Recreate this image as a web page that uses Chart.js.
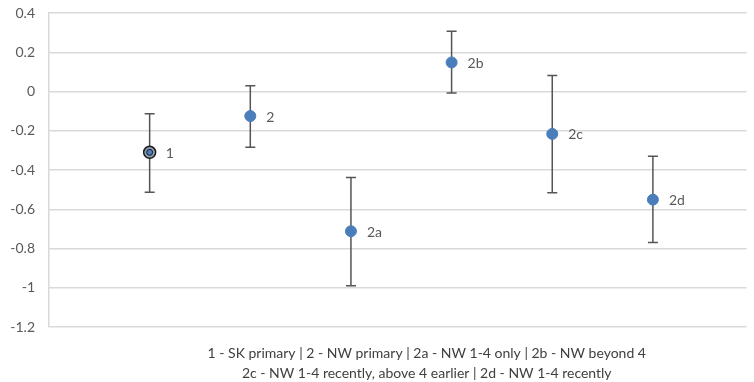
<!DOCTYPE html>
<html>
<head>
<meta charset="utf-8">
<script src="https://cdn.jsdelivr.net/npm/chart.js@4"></script>
<style>
  html, body { margin: 0; padding: 0; background: #fff; }
  #wrap { width: 754px; height: 382px; }
</style>
</head>
<body>
<div id="wrap"><canvas id="chart"></canvas></div>
<script>
const labels = ['1', '2', '2a', '2b', '2c', '2d'];
const xPos = [1, 2, 3, 4, 5, 6];
const means = [-0.31, -0.125, -0.712, 0.148, -0.216, -0.551];
const upper = [-0.113, 0.029, -0.438, 0.307, 0.081, -0.33];
const lower = [-0.513, -0.284, -0.99, -0.008, -0.516, -0.77];
const yTicks = [0.4, 0.2, 0, -0.2, -0.4, -0.6, -0.8, -1, -1.2];
const footer = [
    '1 - SK primary | 2 - NW primary | 2a - NW 1-4 only | 2b - NW beyond 4',
    '2c - NW 1-4 recently, above 4 earlier | 2d - NW 1-4 recently'
];

const blue = '#4a7ebb';
const textGrey = '#595959';
const font = "Lato, 'Open Sans', sans-serif";

// whiskers + point labels
const errorBars = {
    id: 'errorBars',
    beforeDatasetsDraw(chart) {
        const { ctx, scales: { x, y } } = chart;
        ctx.save();
        ctx.strokeStyle = '#555555';
        ctx.lineWidth = 1.5;
        xPos.forEach((v, i) => {
            const px = x.getPixelForValue(v);
            const top = y.getPixelForValue(upper[i]);
            const bot = y.getPixelForValue(lower[i]);
            ctx.beginPath();
            ctx.moveTo(px, top); ctx.lineTo(px, bot);
            ctx.moveTo(px - 5, top); ctx.lineTo(px + 5, top);
            ctx.moveTo(px - 5, bot); ctx.lineTo(px + 5, bot);
            ctx.stroke();
        });
        ctx.restore();
    },
    afterDatasetsDraw(chart) {
        const { ctx, scales: { x, y } } = chart;
        ctx.save();
        ctx.fillStyle = textGrey;
        ctx.font = '14px ' + font;
        ctx.textBaseline = 'middle';
        xPos.forEach((v, i) => {
            ctx.fillText(labels[i], x.getPixelForValue(v) + 16, y.getPixelForValue(means[i]) + 1);
        });
        ctx.restore();
    },
    afterDraw(chart) {
        const { ctx, chartArea } = chart;
        ctx.save();
        ctx.fillStyle = '#404040';
        ctx.font = '14px ' + font;
        ctx.textAlign = 'center';
        ctx.textBaseline = 'middle';
        const cx = (chartArea.left + chartArea.right) / 2 + 29;
        footer.forEach((line, i) => ctx.fillText(line, cx, chartArea.bottom + 26 + i * 20));
        ctx.restore();
    }
};

new Chart(document.getElementById('chart'), {
    type: 'scatter',
    data: {
        datasets: [
            {
                data: xPos.map((v, i) => ({ x: v, y: means[i] })),
                backgroundColor: means.map((m, i) => i === 0 ? '#8e9fb8' : blue),
                borderColor: means.map((m, i) => i === 0 ? '#1a1a1a' : blue),
                borderWidth: means.map((m, i) => i === 0 ? 1.5 : 1),
                pointRadius: means.map((m, i) => i === 0 ? 6 : 5.5)
            },
            {
                // inner dot of the highlighted first marker
                data: [{ x: xPos[0], y: means[0] }],
                order: -1,
                backgroundColor: blue,
                borderColor: '#1a1a1a',
                borderWidth: 1,
                pointRadius: 3
            }
        ]
    },
    options: {
        responsive: true,
        maintainAspectRatio: false,
        animation: false,
        layout: { padding: { top: 13, bottom: 55, right: 0, left: 0 } },
        plugins: { legend: { display: false }, tooltip: { enabled: false } },
        scales: {
            x: {
                type: 'linear',
                min: 0,
                max: 6.93,
                display: false
            },
            y: {
                min: -1.2,
                max: 0.4,
                afterFit(scale) {
                    scale.width = 49;
                    scale.paddingTop = 0;
                    scale.paddingBottom = 0;
                },
                afterBuildTicks(scale) { scale.ticks = yTicks.map(v => ({ value: v })); },
                ticks: {
                    color: textGrey,
                    padding: 14,
                    font: { family: font, size: 14 },
                    callback: v => String(Number(v.toFixed(1)))
                },
                grid: { color: '#d9d9d9', lineWidth: 1.5, drawTicks: false },
                border: { display: true, color: '#d9d9d9', width: 1.5 }
            }
        }
    },
    plugins: [errorBars]
});
</script>
</body>
</html>
